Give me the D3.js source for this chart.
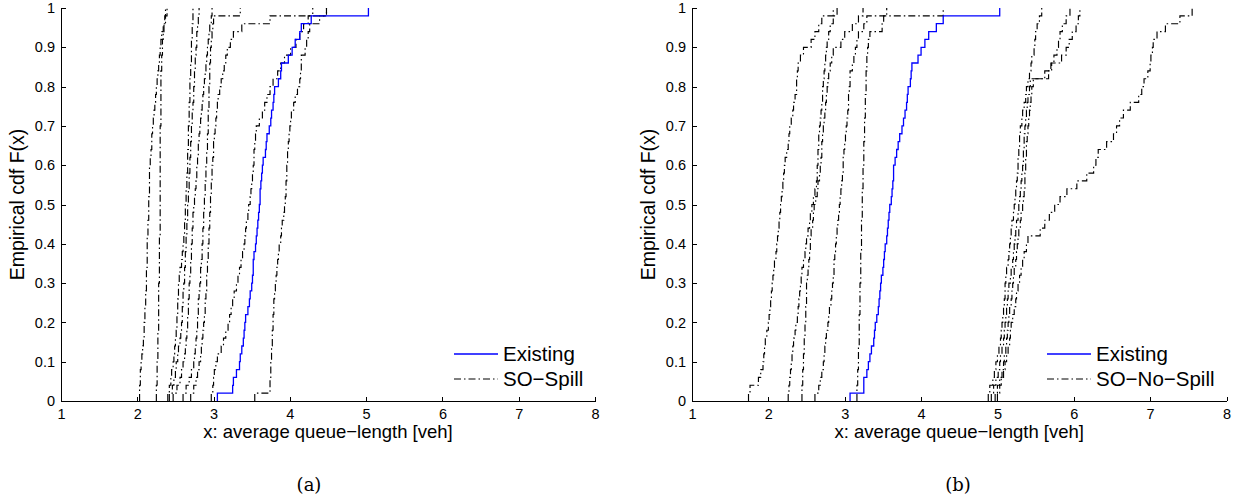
<!DOCTYPE html>
<html lang="en">
<head>
  <meta charset="UTF-8">
  <title>Empirical CDF of average queue length</title>
  <script src="https://d3js.org/d3.v7.min.js"></script>
  <style>
    body { margin: 0; background: #fff; }
    svg { font-family: "Liberation Sans", Arial, sans-serif; }
    .axis path, .axis line { stroke: #000; shape-rendering: crispEdges; }
    .ecdf { fill: none; }
    .so { stroke: #000; stroke-width: 1.15; stroke-dasharray: 7 3 1.5 3; }
    .existing { stroke: #0000ff; stroke-width: 1.3; }
  </style>
</head>
<body>
  <svg width="1243" height="502"></svg>

  <script>
    const xTickValues = [1, 2, 3, 4, 5, 6, 7, 8];
    const yTickValues = [0, 0.1, 0.2, 0.3, 0.4, 0.5, 0.6, 0.7, 0.8, 0.9, 1];
    const yTickLabels = ['0', '0.1', '0.2', '0.3', '0.4', '0.5', '0.6', '0.7', '0.8', '0.9', '1'];

    // (a) sorted samples, 50 runs each
    const existingA = [3.05, 3.25, 3.26, 3.30, 3.34, 3.35, 3.37, 3.39, 3.40, 3.41,
      3.42, 3.45, 3.47, 3.48, 3.50, 3.51, 3.52, 3.52, 3.53, 3.55,
      3.56, 3.57, 3.58, 3.59, 3.60, 3.61, 3.61, 3.62, 3.63, 3.64,
      3.65, 3.68, 3.69, 3.70, 3.73, 3.75, 3.76, 3.78, 3.79, 3.80,
      3.85, 3.88, 3.89, 3.98, 4.03, 4.07, 4.13, 4.15, 4.28, 5.03];

    const soSpill = [
      [2.03, 2.03, 2.04, 2.04, 2.05, 2.06, 2.07, 2.08, 2.09, 2.09,
       2.10, 2.10, 2.11, 2.11, 2.12, 2.12, 2.12, 2.13, 2.13, 2.13,
       2.13, 2.14, 2.14, 2.15, 2.15, 2.15, 2.16, 2.16, 2.16, 2.16,
       2.17, 2.18, 2.19, 2.19, 2.20, 2.21, 2.22, 2.23, 2.24, 2.25,
       2.26, 2.27, 2.28, 2.29, 2.30, 2.31, 2.32, 2.34, 2.36, 2.37],
      [2.25, 2.25, 2.26, 2.26, 2.26, 2.27, 2.27, 2.27, 2.27, 2.28,
       2.28, 2.28, 2.28, 2.28, 2.28, 2.29, 2.29, 2.29, 2.29, 2.29,
       2.29, 2.30, 2.30, 2.30, 2.30, 2.30, 2.30, 2.30, 2.30, 2.30,
       2.30, 2.30, 2.30, 2.30, 2.30, 2.31, 2.31, 2.31, 2.31, 2.31,
       2.31, 2.31, 2.32, 2.32, 2.33, 2.33, 2.34, 2.35, 2.37, 2.39],
      [2.40, 2.42, 2.44, 2.45, 2.47, 2.48, 2.49, 2.50, 2.51, 2.52,
       2.52, 2.53, 2.53, 2.54, 2.54, 2.55, 2.56, 2.58, 2.59, 2.60,
       2.61, 2.62, 2.62, 2.63, 2.63, 2.64, 2.64, 2.65, 2.65, 2.66,
       2.66, 2.66, 2.67, 2.67, 2.67, 2.68, 2.68, 2.68, 2.69, 2.69,
       2.69, 2.70, 2.70, 2.71, 2.71, 2.71, 2.72, 2.72, 2.73, 2.73],
      [2.42, 2.46, 2.48, 2.50, 2.51, 2.53, 2.54, 2.56, 2.57, 2.58,
       2.59, 2.59, 2.60, 2.60, 2.61, 2.62, 2.62, 2.63, 2.63, 2.64,
       2.64, 2.65, 2.65, 2.66, 2.66, 2.67, 2.67, 2.68, 2.68, 2.69,
       2.69, 2.70, 2.70, 2.71, 2.71, 2.72, 2.72, 2.73, 2.74, 2.74,
       2.75, 2.75, 2.76, 2.76, 2.77, 2.78, 2.78, 2.79, 2.80, 2.81],
      [2.47, 2.52, 2.56, 2.58, 2.60, 2.62, 2.63, 2.64, 2.65, 2.66,
       2.66, 2.67, 2.67, 2.68, 2.68, 2.69, 2.70, 2.70, 2.71, 2.71,
       2.72, 2.72, 2.73, 2.73, 2.74, 2.75, 2.76, 2.77, 2.78, 2.78,
       2.79, 2.80, 2.80, 2.81, 2.82, 2.83, 2.84, 2.85, 2.86, 2.87,
       2.88, 2.89, 2.90, 2.91, 2.92, 2.93, 2.94, 2.95, 2.97, 2.98],
      [2.60, 2.64, 2.68, 2.71, 2.74, 2.75, 2.76, 2.77, 2.78, 2.79,
       2.79, 2.80, 2.80, 2.81, 2.82, 2.83, 2.83, 2.84, 2.85, 2.85,
       2.86, 2.86, 2.87, 2.87, 2.88, 2.88, 2.89, 2.89, 2.90, 2.90,
       2.91, 2.91, 2.92, 2.92, 2.93, 2.93, 2.93, 2.94, 2.94, 2.94,
       2.95, 2.95, 2.95, 2.96, 2.96, 2.97, 2.98, 2.99, 3.00, 3.35],
      [2.70, 2.74, 2.77, 2.79, 2.81, 2.83, 2.84, 2.85, 2.86, 2.87,
       2.88, 2.89, 2.89, 2.90, 2.91, 2.91, 2.92, 2.92, 2.93, 2.93,
       2.94, 2.94, 2.95, 2.95, 2.96, 2.96, 2.97, 2.97, 2.98, 2.98,
       2.99, 3.00, 3.00, 3.01, 3.02, 3.03, 3.04, 3.05, 3.06, 3.08,
       3.10, 3.12, 3.14, 3.16, 3.18, 3.22, 3.26, 3.37, 3.74, 4.48],
      [2.97, 2.99, 3.00, 3.01, 3.03, 3.05, 3.10, 3.13, 3.16, 3.19,
       3.21, 3.23, 3.25, 3.27, 3.30, 3.32, 3.34, 3.36, 3.38, 3.40,
       3.41, 3.42, 3.43, 3.45, 3.46, 3.48, 3.49, 3.50, 3.51, 3.52,
       3.53, 3.53, 3.54, 3.55, 3.56, 3.60, 3.64, 3.67, 3.70, 3.74,
       3.78, 3.84, 3.88, 3.93, 4.01, 4.08, 4.13, 4.18, 4.24, 4.30],
      [3.54, 3.74, 3.74, 3.75, 3.75, 3.76, 3.76, 3.77, 3.77, 3.78,
       3.78, 3.79, 3.79, 3.80, 3.81, 3.82, 3.83, 3.84, 3.85, 3.86,
       3.88, 3.89, 3.90, 3.92, 3.93, 3.94, 3.95, 3.95, 3.96, 3.96,
       3.97, 3.97, 3.98, 3.99, 4.00, 4.01, 4.02, 4.05, 4.07, 4.10,
       4.13, 4.14, 4.15, 4.15, 4.20, 4.22, 4.24, 4.26, 4.39, 4.48]
    ];

    // (b)
    const existingB = [3.07, 3.25, 3.25, 3.29, 3.31, 3.33, 3.35, 3.38, 3.39, 3.40,
      3.42, 3.44, 3.45, 3.46, 3.47, 3.48, 3.50, 3.51, 3.52, 3.53,
      3.55, 3.56, 3.57, 3.58, 3.59, 3.61, 3.62, 3.63, 3.64, 3.64,
      3.66, 3.68, 3.70, 3.72, 3.75, 3.77, 3.79, 3.81, 3.82, 3.83,
      3.86, 3.87, 3.88, 3.96, 4.00, 4.05, 4.10, 4.20, 4.29, 5.03];

    const soNoSpill = [
      [1.74, 1.76, 1.87, 1.90, 1.93, 1.94, 1.95, 1.96, 1.98, 2.00,
       2.01, 2.02, 2.03, 2.04, 2.05, 2.06, 2.07, 2.08, 2.10, 2.11,
       2.12, 2.13, 2.14, 2.15, 2.16, 2.17, 2.18, 2.19, 2.20, 2.21,
       2.22, 2.24, 2.26, 2.27, 2.28, 2.30, 2.32, 2.33, 2.35, 2.37,
       2.37, 2.38, 2.39, 2.42, 2.46, 2.56, 2.61, 2.66, 2.70, 2.85],
      [2.26, 2.27, 2.28, 2.29, 2.30, 2.31, 2.32, 2.33, 2.35, 2.36,
       2.38, 2.39, 2.40, 2.41, 2.42, 2.43, 2.44, 2.46, 2.48, 2.49,
       2.50, 2.52, 2.54, 2.55, 2.57, 2.59, 2.61, 2.63, 2.64, 2.64,
       2.65, 2.65, 2.66, 2.66, 2.67, 2.68, 2.69, 2.70, 2.71, 2.71,
       2.72, 2.73, 2.74, 2.75, 2.76, 2.77, 2.79, 2.81, 2.85, 2.90],
      [2.44, 2.44, 2.45, 2.45, 2.46, 2.46, 2.47, 2.47, 2.48, 2.48,
       2.49, 2.49, 2.50, 2.50, 2.50, 2.51, 2.52, 2.53, 2.54, 2.55,
       2.55, 2.56, 2.58, 2.59, 2.60, 2.62, 2.64, 2.65, 2.67, 2.68,
       2.69, 2.70, 2.70, 2.71, 2.72, 2.73, 2.74, 2.75, 2.76, 2.77,
       2.78, 2.79, 2.81, 2.83, 2.85, 2.95, 3.00, 3.10, 3.18, 3.24],
      [2.61, 2.66, 2.68, 2.70, 2.72, 2.73, 2.74, 2.75, 2.76, 2.78,
       2.79, 2.80, 2.82, 2.83, 2.84, 2.85, 2.86, 2.86, 2.87, 2.88,
       2.89, 2.90, 2.91, 2.92, 2.93, 2.94, 2.95, 2.96, 2.97, 2.98,
       2.98, 2.99, 3.00, 3.01, 3.02, 3.03, 3.04, 3.05, 3.05, 3.06,
       3.07, 3.07, 3.10, 3.12, 3.14, 3.16, 3.18, 3.25, 3.29, 4.29],
      [3.16, 3.16, 3.17, 3.17, 3.18, 3.18, 3.18, 3.19, 3.19, 3.19,
       3.19, 3.20, 3.20, 3.20, 3.20, 3.21, 3.21, 3.21, 3.21, 3.22,
       3.22, 3.22, 3.22, 3.23, 3.23, 3.23, 3.23, 3.24, 3.24, 3.24,
       3.25, 3.25, 3.25, 3.26, 3.26, 3.26, 3.27, 3.27, 3.27, 3.28,
       3.28, 3.28, 3.29, 3.29, 3.30, 3.31, 3.33, 3.49, 3.51, 3.55],
      [4.88, 4.90, 4.94, 4.96, 4.98, 5.00, 5.02, 5.04, 5.05, 5.06,
       5.07, 5.08, 5.09, 5.10, 5.10, 5.11, 5.12, 5.14, 5.15, 5.16,
       5.17, 5.18, 5.19, 5.21, 5.22, 5.23, 5.24, 5.25, 5.26, 5.27,
       5.27, 5.28, 5.29, 5.29, 5.30, 5.32, 5.33, 5.35, 5.37, 5.38,
       5.40, 5.42, 5.44, 5.45, 5.48, 5.49, 5.50, 5.52, 5.55, 5.58],
      [4.92, 4.95, 4.98, 5.01, 5.03, 5.04, 5.06, 5.08, 5.09, 5.10,
       5.11, 5.12, 5.13, 5.14, 5.15, 5.17, 5.18, 5.20, 5.21, 5.22,
       5.23, 5.24, 5.25, 5.27, 5.28, 5.29, 5.30, 5.31, 5.32, 5.33,
       5.34, 5.34, 5.35, 5.35, 5.36, 5.37, 5.38, 5.39, 5.40, 5.42,
       5.43, 5.67, 5.70, 5.74, 5.78, 5.80, 5.82, 5.85, 5.90, 5.95],
      [4.97, 5.00, 5.03, 5.06, 5.08, 5.09, 5.11, 5.12, 5.13, 5.14,
       5.15, 5.16, 5.18, 5.19, 5.20, 5.21, 5.22, 5.24, 5.25, 5.26,
       5.27, 5.28, 5.30, 5.31, 5.33, 5.34, 5.35, 5.36, 5.36, 5.37,
       5.37, 5.38, 5.38, 5.39, 5.40, 5.41, 5.42, 5.43, 5.44, 5.45,
       5.47, 5.62, 5.71, 5.84, 5.90, 5.94, 5.98, 6.03, 6.06, 6.08],
      [5.00, 5.03, 5.05, 5.08, 5.10, 5.12, 5.14, 5.16, 5.17, 5.18,
       5.20, 5.22, 5.24, 5.25, 5.27, 5.29, 5.31, 5.33, 5.35, 5.38,
       5.40, 5.56, 5.62, 5.68, 5.75, 5.82, 5.91, 6.04, 6.17, 6.26,
       6.29, 6.32, 6.43, 6.52, 6.56, 6.60, 6.65, 6.74, 6.85, 6.89,
       6.92, 6.97, 7.00, 7.01, 7.03, 7.04, 7.09, 7.20, 7.39, 7.55]
    ];

    const panels = [
      { left: 61, right: 595, existing: existingA, runs: soSpill, name: 'SO\u2212Spill', tag: '(a)', tagX: 309, legendX: 454 },
      { left: 692, right: 1226.5, existing: existingB, runs: soNoSpill, name: 'SO\u2212No\u2212Spill', tag: '(b)', tagX: 958, legendX: 1047 }
    ];

    const plotTop = 8, plotBottom = 401;
    const svg = d3.select('svg');

    // ecdf as steps: start at (x1, 0), then (xk, k/n)
    function ecdfPoints(samples) {
      const s = samples.slice().sort(d3.ascending);
      const n = s.length;
      const pts = [[s[0], 0]];
      s.forEach((v, i) => pts.push([v, (i + 1) / n]));
      return pts;
    }

    panels.forEach(p => {
      const x = d3.scaleLinear().domain([1, 8]).range([p.left, p.right]);
      const y = d3.scaleLinear().domain([0, 1]).range([plotBottom, plotTop]);
      const g = svg.append('g');

      const line = d3.line()
        .x(d => x(d[0]))
        .y(d => y(d[1]))
        .curve(d3.curveStepAfter);

      g.selectAll('.so')
        .data(p.runs)
        .enter()
        .append('path')
        .attr('class', 'ecdf so')
        .attr('d', d => line(ecdfPoints(d)));

      g.append('path')
        .attr('class', 'ecdf existing')
        .attr('d', line(ecdfPoints(p.existing)));

      const xAxis = g.append('g')
        .attr('class', 'axis')
        .attr('transform', `translate(0, ${plotBottom})`)
        .call(d3.axisBottom(x).tickValues(xTickValues).tickFormat(d3.format('d'))
          .tickSizeInner(-4.5).tickSizeOuter(0).tickPadding(8));

      const yAxis = g.append('g')
        .attr('class', 'axis')
        .attr('transform', `translate(${p.left}, 0)`)
        .call(d3.axisLeft(y).tickValues(yTickValues).tickFormat((d, i) => yTickLabels[i])
          .tickSizeInner(-4.5).tickSizeOuter(0).tickPadding(6));

      [xAxis, yAxis].forEach(a => {
        a.attr('font-family', null).attr('font-size', null);
        a.selectAll('text').style('font-size', '14.5px').style('fill', '#000');
      });

      const cx = (p.left + p.right) / 2;
      g.append('text')
        .attr('x', cx)
        .attr('y', 438)
        .attr('text-anchor', 'middle')
        .style('font-size', '18.5px')
        .text('x: average queue\u2212length [veh]');

      g.append('text')
        .attr('transform', `translate(${p.left - 37}, ${(plotTop + plotBottom) / 2}) rotate(-90)`)
        .attr('text-anchor', 'middle')
        .style('font-size', '19.5px')
        .text('Empirical cdf F(x)');

      g.append('text')
        .attr('x', p.tagX)
        .attr('y', 491)
        .attr('text-anchor', 'middle')
        .style('font-family', '"DejaVu Serif", "Liberation Serif", serif')
        .style('font-size', '18px')
        .text(p.tag);

      // legend
      const legend = g.append('g');
      const rows = [
        { label: 'Existing', cls: 'existing', yy: 354 },
        { label: p.name, cls: 'so', yy: 379 }
      ];
      rows.forEach(r => {
        legend.append('line')
          .attr('class', 'ecdf ' + r.cls)
          .attr('x1', p.legendX).attr('x2', p.legendX + 44)
          .attr('y1', r.yy).attr('y2', r.yy);
        legend.append('text')
          .attr('x', p.legendX + 49)
          .attr('y', r.yy)
          .attr('dy', '0.35em')
          .style('font-size', '20.5px')
          .text(r.label);
      });
    });
  </script>
</body>
</html>
